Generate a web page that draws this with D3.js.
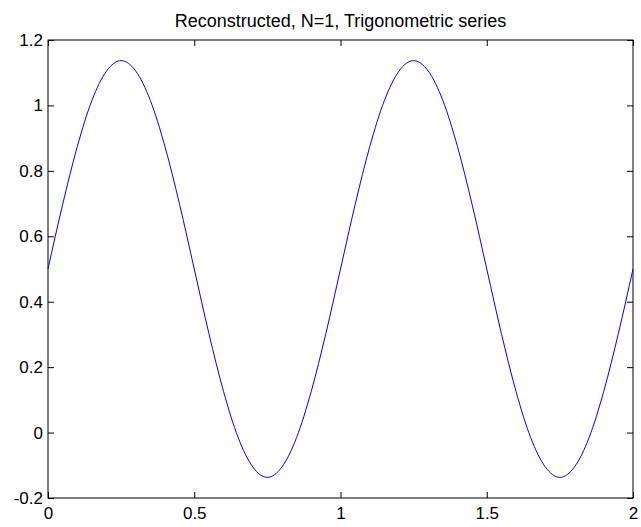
<!DOCTYPE html>
<html>
<head>
<meta charset="utf-8">
<script src="https://cdn.jsdelivr.net/npm/d3@7"></script>
<style>
  body { margin: 0; background: #fff; }
  svg { display: block; font-family: "Liberation Sans", Arial, sans-serif; }
  .tick text { font-size: 17px; fill: #000; }
</style>
</head>
<body>
<div id="chart"></div>
<script>
// values
const xs = [0, 0.05, 0.1, 0.15, 0.2, 0.25, 0.3, 0.35, 0.4, 0.45, 0.5,
  0.55, 0.6, 0.65, 0.7, 0.75, 0.8, 0.85, 0.9, 0.95, 1,
  1.05, 1.1, 1.15, 1.2, 1.25, 1.3, 1.35, 1.4, 1.45, 1.5,
  1.55, 1.6, 1.65, 1.7, 1.75, 1.8, 1.85, 1.9, 1.95, 2];
const ys = [0.5, 0.697, 0.874, 1.015, 1.105, 1.137, 1.105, 1.015, 0.874, 0.697, 0.5,
  0.303, 0.126, -0.015, -0.105, -0.137, -0.105, -0.015, 0.126, 0.303, 0.5,
  0.697, 0.874, 1.015, 1.105, 1.137, 1.105, 1.015, 0.874, 0.697, 0.5,
  0.303, 0.126, -0.015, -0.105, -0.137, -0.105, -0.015, 0.126, 0.303, 0.5];
const xTicks = [0, 0.5, 1, 1.5, 2];
const yTicks = [-0.2, 0, 0.2, 0.4, 0.6, 0.8, 1, 1.2];
const title = "Reconstructed, N=1, Trigonometric series";

const width = 641, height = 527;
const margin = {top: 40, right: 8, bottom: 29, left: 48};
const w = width - margin.left - margin.right;
const h = height - margin.top - margin.bottom;

const svg = d3.select("#chart").append("svg")
  .attr("width", width)
  .attr("height", height);

const g = svg.append("g")
  .attr("transform", `translate(${margin.left},${margin.top})`);

const x = d3.scaleLinear().domain([0, 2]).range([0, w]);
const y = d3.scaleLinear().domain([-0.2, 1.2]).range([h, 0]);

const fmt = d => String(+d.toFixed(1));

// bottom / left axes with labels, ticks pointing inward
g.append("g")
  .attr("transform", `translate(0,${h})`)
  .call(d3.axisBottom(x).tickValues(xTicks).tickFormat(fmt).tickSizeInner(-6).tickSizeOuter(0).tickPadding(9))
  .call(a => a.select(".domain").remove());

g.append("g")
  .call(d3.axisLeft(y).tickValues(yTicks).tickFormat(fmt).tickSizeInner(-6).tickSizeOuter(0).tickPadding(5))
  .call(a => a.select(".domain").remove());

// top / right ticks, no labels
g.append("g")
  .call(d3.axisTop(x).tickValues(xTicks).tickFormat("").tickSizeInner(-6).tickSizeOuter(0))
  .call(a => a.select(".domain").remove());

g.append("g")
  .attr("transform", `translate(${w},0)`)
  .call(d3.axisRight(y).tickValues(yTicks).tickFormat("").tickSizeInner(-6).tickSizeOuter(0))
  .call(a => a.select(".domain").remove());

g.selectAll(".tick line").attr("stroke", "#000");

// box
g.append("rect")
  .attr("width", w)
  .attr("height", h)
  .attr("fill", "none")
  .attr("stroke", "#000")
  .attr("stroke-width", 1);

const pts = xs.map((v, i) => [v, ys[i]]);

g.append("path")
  .datum(pts)
  .attr("fill", "none")
  .attr("stroke", "#0000ff")
  .attr("stroke-width", 1)
  .attr("d", d3.line().x(d => x(d[0])).y(d => y(d[1])).curve(d3.curveMonotoneX));

svg.append("text")
  .attr("x", margin.left + w / 2)
  .attr("y", 27)
  .attr("text-anchor", "middle")
  .attr("font-size", 18)
  .text(title);
</script>
</body>
</html>
